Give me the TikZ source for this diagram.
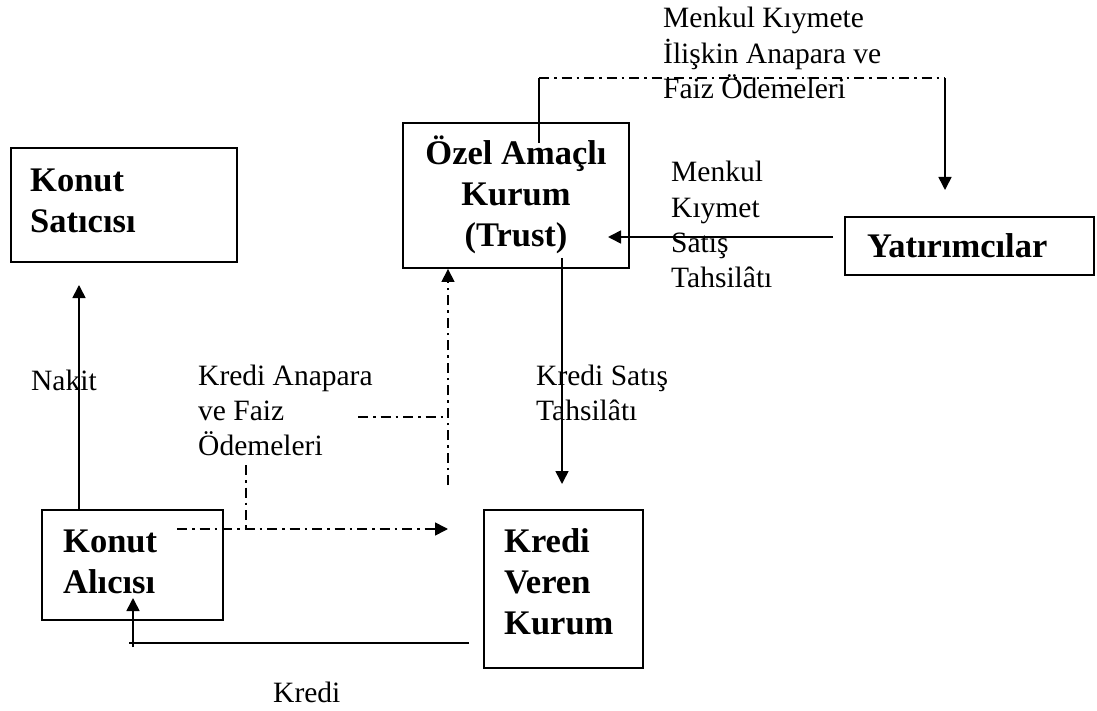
\documentclass[tikz,border=0pt]{standalone}
\usepackage{fontspec}
\setmainfont{Liberation Serif}
\usetikzlibrary{arrows.meta}
% stacked lines whose baseline is that of the first line
\newcommand\txtlines[2]{\begin{tabular}[t]{@{}#1@{}}#2\end{tabular}}
\begin{document}
\begin{tikzpicture}[x=1pt,y=-1pt,
  box/.style={draw, line width=1.9pt, inner sep=0pt},
  boxtext/.style={anchor=base west, inner sep=0pt, font=\fontsize{34.5}{41}\selectfont\bfseries},
  flowtext/.style={anchor=base west, inner sep=0pt, font=\fontsize{29.5}{35.3}\selectfont},
  flow/.style={line width=1.6pt},
  tip/.style={-{Triangle[length=13pt,width=13pt]}},
  dashdot/.style={dash pattern=on 10pt off 5pt on 2.5pt off 5pt}]
\useasboundingbox (0,0) rectangle (1097,711);

% ---------- boxes ----------
\node[box, minimum width=226pt, minimum height=114pt] (sat) at (124,205) {};
\node[box, minimum width=226pt, minimum height=145pt] (ozel) at (516,195.5) {};
\node[box, minimum width=249pt, minimum height=58pt] (yat) at (969.5,246) {};
\node[box, minimum width=181pt, minimum height=110pt] (alici) at (132.5,565) {};
\node[box, minimum width=159pt, minimum height=158pt] (kv) at (563.5,589) {};

% ---------- box texts ----------
\node[boxtext] (satT) at (30,192) {\txtlines{l}{Konut\\Satıcısı}};
\node[boxtext, anchor=base] (ozelT) at (516,165) {\txtlines{c}{Özel Amaçlı\\Kurum\\(Trust)}};
\node[boxtext] (yatT) at (867,258) {Yatırımcılar};
\node[boxtext] (aliciT) at (63,552) {\txtlines{l}{Konut\\Alıcısı}};
\node[boxtext] (kvT) at (504,552) {\txtlines{l}{Kredi\\Veren\\Kurum}};

% ---------- flow labels ----------
\node[flowtext] (lblTop) at (663,28) {\txtlines{l}{Menkul Kıymete\\İlişkin Anapara ve\\Faiz Ödemeleri}};
\node[flowtext] (lblSale) at (671,182) {\txtlines{l}{Menkul\\Kıymet\\Satış\\Tahsilâtı}};
\node[flowtext] (lblCash) at (31,390) {Nakit};
\node[flowtext] (lblPay) at (198,385) {\txtlines{l}{Kredi Anapara\\ve Faiz\\Ödemeleri}};
\node[flowtext] (lblLoanSale) at (536,385) {\txtlines{l}{Kredi Satış\\Tahsilâtı}};
\node[flowtext] (lblLoan) at (273,702) {Kredi};

% ---------- connector points ----------
\coordinate (cashEnd) at (79,285);
\coordinate (loanStart) at (469,643);
\coordinate (loanCorner) at (133,643);
\coordinate (loanEnd) at (133,598);
\coordinate (saleTop) at (562,258);
\coordinate (saleEnd) at (562,484);
\coordinate (yatOut) at (833,237);
\coordinate (ozelIn) at (608,237);
\coordinate (payStart) at (177,529);
\coordinate (payJoin) at (246,529);
\coordinate (payFoot) at (246,465);
\coordinate (payEnd) at (448,529);
\coordinate (fwdBase) at (448,485);
\coordinate (fwdJoin) at (448,417);
\coordinate (fwdFoot) at (358,417);
\coordinate (secStart) at (539,143);
\coordinate (secLeft) at (539,78);
\coordinate (secRight) at (945,78);
\coordinate (secEnd) at (945,190);

% ---------- solid flows ----------
\draw[flow,tip] (alici.north -| cashEnd) -- (cashEnd);
\draw[flow,tip] (loanStart) -- ([xshift=-4pt]loanCorner) ([yshift=-4pt]loanCorner) -- (loanEnd);
\draw[flow,tip] (saleTop) -- (saleEnd);
\draw[flow,tip] (yatOut) -- (ozelIn);

% ---------- payment flows ----------
\draw[flow,dashdot,tip] (payStart) -- (payEnd);
\draw[flow,dashdot] (payFoot) -- (payJoin);
\draw[flow,dashdot,tip] (fwdBase) -- (ozel.south -| fwdBase);
\draw[flow,dashdot] (fwdFoot) -- (fwdJoin);

% ---------- security payments to investors ----------
\draw[flow] (secStart) -- (secLeft);
\draw[flow,dashdot] (secLeft) -- (secRight);
\draw[flow,tip] (secRight) -- (secEnd);
\end{tikzpicture}
\end{document}
